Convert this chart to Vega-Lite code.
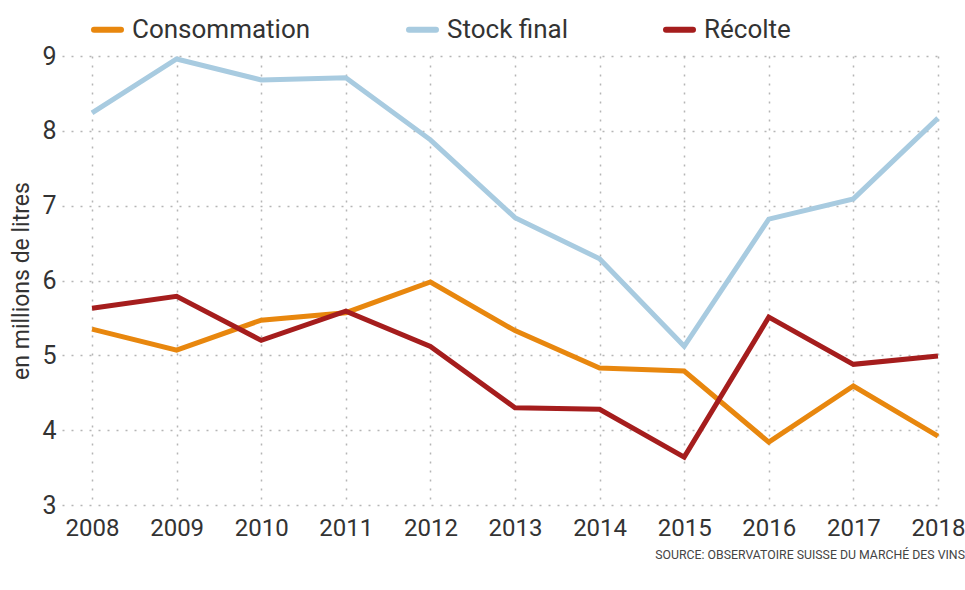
{
  "$schema": "https://vega.github.io/schema/vega-lite/v6.json",
  "width": 878,
  "height": 449,
  "autosize": "none",
  "padding": {"left": 62, "top": 56, "right": 25, "bottom": 85},
  "background": "white",
  "config": {
    "font": "Roboto",
    "view": {"stroke": null},
    "title": {"font": "Roboto"}
  },
  "title": {
    "text": "SOURCE: OBSERVATOIRE SUISSE DU MARCHÉ DES VINS",
    "orient": "bottom",
    "anchor": "end",
    "fontSize": 12.3,
    "fontWeight": "normal",
    "color": "#444",
    "offset": 9
  },
  "data": {
    "values": [
      {"annee": 2008, "serie": "Consommation", "valeur": 5.35},
      {"annee": 2009, "serie": "Consommation", "valeur": 5.07},
      {"annee": 2010, "serie": "Consommation", "valeur": 5.47},
      {"annee": 2011, "serie": "Consommation", "valeur": 5.57},
      {"annee": 2012, "serie": "Consommation", "valeur": 5.98},
      {"annee": 2013, "serie": "Consommation", "valeur": 5.33},
      {"annee": 2014, "serie": "Consommation", "valeur": 4.83},
      {"annee": 2015, "serie": "Consommation", "valeur": 4.79},
      {"annee": 2016, "serie": "Consommation", "valeur": 3.84},
      {"annee": 2017, "serie": "Consommation", "valeur": 4.59},
      {"annee": 2018, "serie": "Consommation", "valeur": 3.92},
      {"annee": 2008, "serie": "Stock final", "valeur": 8.24},
      {"annee": 2009, "serie": "Stock final", "valeur": 8.96},
      {"annee": 2010, "serie": "Stock final", "valeur": 8.68},
      {"annee": 2011, "serie": "Stock final", "valeur": 8.71},
      {"annee": 2012, "serie": "Stock final", "valeur": 7.88},
      {"annee": 2013, "serie": "Stock final", "valeur": 6.84},
      {"annee": 2014, "serie": "Stock final", "valeur": 6.29},
      {"annee": 2015, "serie": "Stock final", "valeur": 5.12},
      {"annee": 2016, "serie": "Stock final", "valeur": 6.82},
      {"annee": 2017, "serie": "Stock final", "valeur": 7.09},
      {"annee": 2018, "serie": "Stock final", "valeur": 8.17},
      {"annee": 2008, "serie": "Récolte", "valeur": 5.63},
      {"annee": 2009, "serie": "Récolte", "valeur": 5.79},
      {"annee": 2010, "serie": "Récolte", "valeur": 5.20},
      {"annee": 2011, "serie": "Récolte", "valeur": 5.59},
      {"annee": 2012, "serie": "Récolte", "valeur": 5.12},
      {"annee": 2013, "serie": "Récolte", "valeur": 4.30},
      {"annee": 2014, "serie": "Récolte", "valeur": 4.28},
      {"annee": 2015, "serie": "Récolte", "valeur": 3.64},
      {"annee": 2016, "serie": "Récolte", "valeur": 5.51},
      {"annee": 2017, "serie": "Récolte", "valeur": 4.88},
      {"annee": 2018, "serie": "Récolte", "valeur": 4.99}
    ]
  },
  "mark": {"type": "line", "strokeWidth": 5, "strokeJoin": "miter", "strokeCap": "butt", "clip": false},
  "encoding": {
    "x": {
      "field": "annee",
      "type": "quantitative",
      "scale": {"domain": [2007.645, 2018.024], "nice": false, "zero": false},
      "axis": {
        "title": null,
        "values": [2008, 2009, 2010, 2011, 2012, 2013, 2014, 2015, 2016, 2017, 2018],
        "format": "d",
        "domain": false,
        "ticks": false,
        "labelFontSize": 24,
        "labelColor": "#333",
        "labelPadding": 11,
        "labelFlush": false,
        "labelOverlap": false,
        "grid": true,
        "gridColor": "#b5b5b5",
        "gridDash": [2, 7],
        "gridWidth": 1.5
      }
    },
    "y": {
      "field": "valeur",
      "type": "quantitative",
      "scale": {"domain": [3, 9], "nice": false, "zero": false},
      "axis": {
        "title": "en millions de litres",
        "titleFontSize": 23,
        "titleFontWeight": "normal",
        "titleColor": "#333",
        "titlePadding": 8,
        "values": [3, 4, 5, 6, 7, 8, 9],
        "domain": false,
        "ticks": false,
        "labelFontSize": 25,
        "labelColor": "#333",
        "labelPadding": 6,
        "grid": true,
        "gridColor": "#b5b5b5",
        "gridDash": [2, 7],
        "gridWidth": 1.5
      }
    },
    "color": {
      "field": "serie",
      "type": "nominal",
      "scale": {
        "domain": ["Consommation", "Stock final", "Récolte"],
        "range": ["#e8870e", "#a8cbe0", "#a51d1d"]
      },
      "legend": {
        "title": null,
        "orient": "none",
        "direction": "horizontal",
        "legendX": 29,
        "legendY": -43,
        "symbolType": "stroke",
        "symbolStrokeWidth": 6,
        "symbolSize": 729,
        "labelFontSize": 26,
        "labelLimit": 0,
        "labelColor": "#333",
        "labelOffset": 8,
        "columnPadding": 86,
        "encode": {"symbols": {"update": {"strokeCap": {"value": "round"}}}}
      }
    }
  }
}
